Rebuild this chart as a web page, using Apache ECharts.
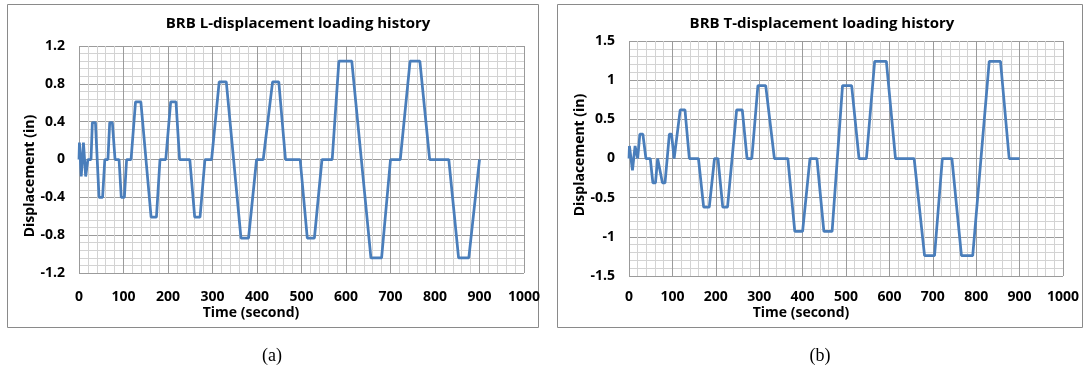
<!DOCTYPE html>
<html>
<head>
<meta charset="utf-8">
<script src="https://cdn.jsdelivr.net/npm/echarts@6/dist/echarts.min.js"></script>
<style>
  html, body { margin: 0; padding: 0; background: #fff; }
  #chart { width: 1087px; height: 377px; }
</style>
</head>
<body>
<div id="chart"></div>
<script>
// (a) L-displacement loading history: time (s) and displacement (in)
const lTime = [0, 1, 3, 5, 7, 10, 12, 15, 17, 20, 27,
  30, 37, 45, 53, 58, 65, 69, 75, 81, 90, 95, 102, 107, 117,
  127, 139, 162, 174, 182, 195, 206, 218, 226, 249, 260, 272, 283, 298,
  315, 331, 364, 381, 399, 414, 435, 449, 464, 497, 513, 529, 546, 569,
  584, 613, 656, 680, 700, 722, 744, 766, 788, 831, 853, 876, 900];
const lDisp = [0, 0.18, 0.18, -0.18, -0.18, 0.18, 0.18, -0.18, -0.18, 0, 0,
  0.39, 0.39, -0.4, -0.4, 0, 0, 0.39, 0.39, 0, 0, -0.4, -0.4, 0, 0,
  0.61, 0.61, -0.61, -0.61, 0, 0, 0.61, 0.61, 0, 0, -0.61, -0.61, 0, 0,
  0.82, 0.82, -0.83, -0.83, 0, 0, 0.82, 0.82, 0, 0, -0.83, -0.83, 0, 0,
  1.04, 1.04, -1.04, -1.04, 0, 0, 1.04, 1.04, 0, 0, -1.04, -1.04, 0];

// (b) T-displacement loading history
const tTime = [0, 1, 3, 8, 10, 14, 17, 20, 25, 32, 39, 49, 55, 61, 66, 70, 77, 83,
  93, 98, 104, 118, 129, 139, 160, 172, 185, 197, 205, 216, 227, 248, 261, 272, 283,
  297, 315, 335, 366, 382, 400, 417, 433, 449, 468, 492, 513, 530, 547,
  566, 593, 614, 657, 681, 704, 722, 744, 766, 792, 830, 856, 876, 900];
const tDisp = [0, 0.16, 0.16, -0.15, -0.15, 0.16, 0.16, 0, 0.31, 0.31, 0, 0, -0.31, -0.31, 0, 0, -0.31, -0.31,
  0.31, 0.31, 0, 0.62, 0.62, 0, 0, -0.62, -0.62, 0, 0, -0.62, -0.62, 0.62, 0.62, 0, 0,
  0.93, 0.93, 0, 0, -0.93, -0.93, 0, 0, -0.93, -0.93, 0.93, 0.93, 0, 0,
  1.24, 1.24, 0, 0, -1.24, -1.24, 0, 0, -1.24, -1.24, 1.24, 1.24, 0, 0];

// axis ranges: [min, max, interval]
const timeAxis = [0, 1000, 100];
const lAxis = [-1.2, 1.2, 0.4];
const tAxis = [-1.5, 1.5, 0.5];

const lineColor = '#4a7ebb';
const font = '"Open Sans", "Noto Sans", sans-serif';

const chart = echarts.init(document.getElementById('chart'));

function xAxisFor(gridIndex, labelMargin) {
  return {
    type: 'value',
    gridIndex: gridIndex,
    min: timeAxis[0],
    max: timeAxis[1],
    interval: timeAxis[2],
    axisLine: { show: false },
    axisTick: { show: false },
    axisLabel: {
      color: '#000', fontFamily: font, fontWeight: 'bold', fontSize: 14, margin: labelMargin,
      formatter: (v) => String(v)
    },
    splitLine: { show: true, lineStyle: { color: '#9b9b9b', width: 1 } },
    minorTick: { show: false, splitNumber: 5 },
    minorSplitLine: { show: true, lineStyle: { color: '#d3d3d3', width: 1 } }
  };
}

function yAxisFor(gridIndex, range) {
  return {
    type: 'value',
    gridIndex: gridIndex,
    min: range[0],
    max: range[1],
    interval: range[2],
    axisLine: { show: false },
    axisTick: { show: false },
    axisLabel: { color: '#000', fontFamily: font, fontWeight: 'bold', fontSize: 14, margin: 14 },
    splitLine: { show: true, lineStyle: { color: '#9b9b9b', width: 1 } },
    minorTick: { show: false, splitNumber: 5 },
    minorSplitLine: { show: true, lineStyle: { color: '#d3d3d3', width: 1 } }
  };
}

function textEl(x, y, text, opts) {
  return Object.assign({
    type: 'text',
    x: x,
    y: y,
    style: {
      text: text,
      fill: '#000',
      font: 'bold 14px ' + font,
      align: 'center',
      verticalAlign: 'middle'
    }
  }, opts || {});
}

const captionFont = '18px "Liberation Serif", serif';

const option = {
  animation: false,
  backgroundColor: '#fff',
  title: [
    {
      text: 'BRB L-displacement loading history',
      left: 293, top: 11, textAlign: 'center',
      textStyle: { fontFamily: font, fontWeight: 'bold', fontSize: 15, color: '#000' }
    },
    {
      text: 'BRB T-displacement loading history',
      left: 817, top: 11, textAlign: 'center',
      textStyle: { fontFamily: font, fontWeight: 'bold', fontSize: 15, color: '#000' }
    }
  ],
  grid: [
    { left: 79, top: 46, width: 445, height: 227 },
    { left: 629, top: 41, width: 434, height: 235 }
  ],
  xAxis: [xAxisFor(0, 17), xAxisFor(1, 14)],
  yAxis: [yAxisFor(0, lAxis), yAxisFor(1, tAxis)],
  series: [
    {
      name: 'L-displacement',
      type: 'line',
      xAxisIndex: 0,
      yAxisIndex: 0,
      showSymbol: false,
      data: lTime.map((t, i) => [t, lDisp[i]]),
      lineStyle: { color: lineColor, width: 2.75 },
      itemStyle: { color: lineColor }
    },
    {
      name: 'T-displacement',
      type: 'line',
      xAxisIndex: 1,
      yAxisIndex: 1,
      showSymbol: false,
      data: tTime.map((t, i) => [t, tDisp[i]]),
      lineStyle: { color: lineColor, width: 2.75 },
      itemStyle: { color: lineColor }
    }
  ],
  graphic: [
    // chart frames
    { type: 'rect', shape: { x: 7.5, y: 4.5, width: 531, height: 323 }, style: { fill: 'none', stroke: '#8a8a8a', lineWidth: 1 }, silent: true },
    { type: 'rect', shape: { x: 557.5, y: 4.5, width: 525, height: 323 }, style: { fill: 'none', stroke: '#8a8a8a', lineWidth: 1 }, silent: true },
    // axis names
    textEl(251, 313, 'Time (second)'),
    textEl(801, 313, 'Time (second)'),
    textEl(30, 176, 'Displacement (in)', { rotation: Math.PI / 2 }),
    textEl(580, 155, 'Displacement (in)', { rotation: Math.PI / 2 }),
    // sub-figure captions
    textEl(272, 356, '(a)', { style: { text: '(a)', fill: '#000', font: captionFont, align: 'center', verticalAlign: 'middle' } }),
    textEl(820, 356, '(b)', { style: { text: '(b)', fill: '#000', font: captionFont, align: 'center', verticalAlign: 'middle' } })
  ]
};

chart.setOption(option);
</script>
</body>
</html>
